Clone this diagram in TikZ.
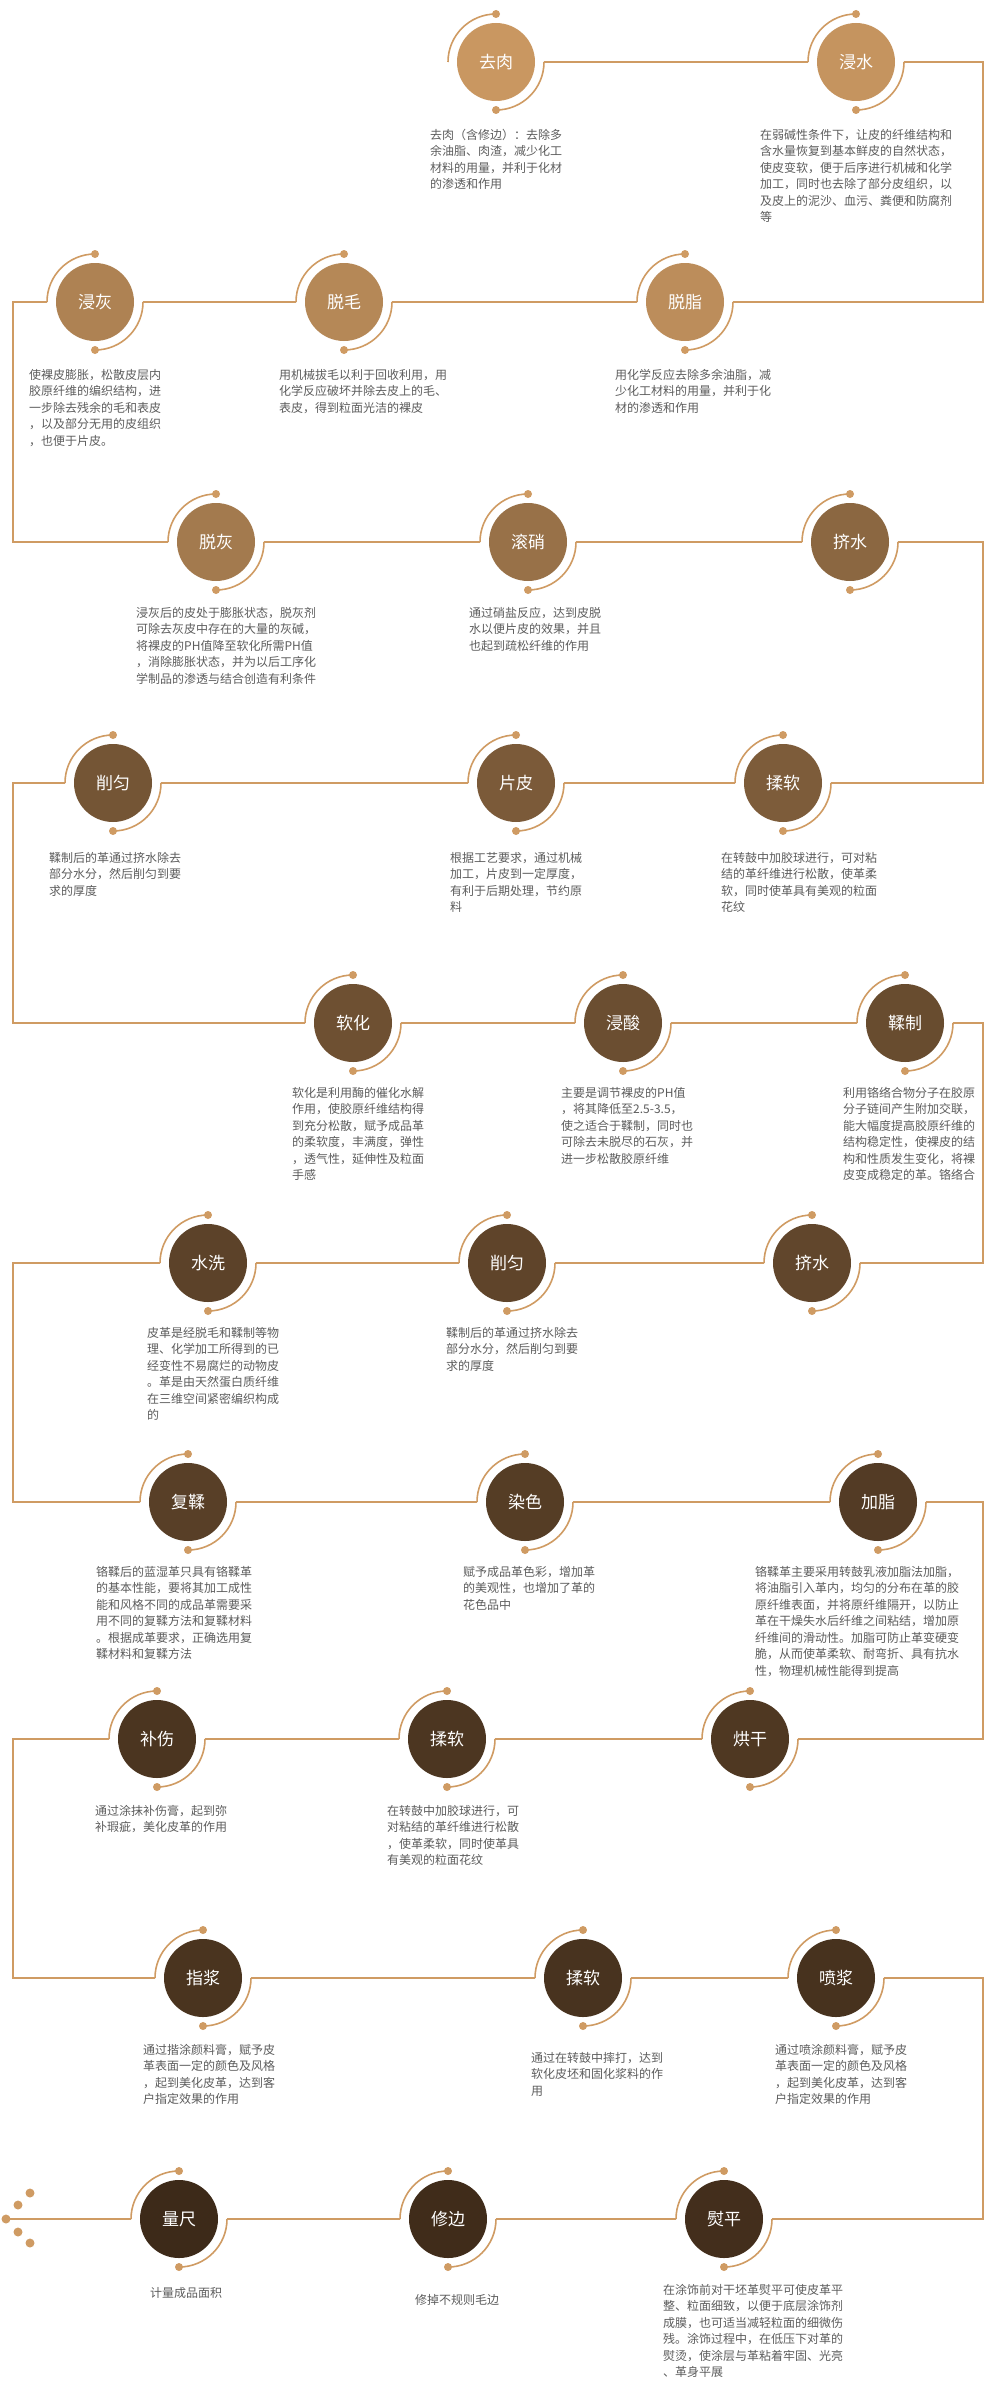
\documentclass[tikz,border=0pt]{standalone}
\usepackage{fontspec}
\setmainfont{Noto Sans CJK SC}
\usetikzlibrary{calc}
\definecolor{linetan}{HTML}{CF9B63}
\definecolor{lightbrown}{HTML}{C99761}
\definecolor{darkbrown}{HTML}{3D2A19}
\definecolor{textgray}{HTML}{5C5C5C}

\begin{document}
\begin{tikzpicture}[
    x=1pt, y=-1pt,
    stage/.style={circle, minimum size=78pt, inner sep=0pt, outer sep=9pt,
        fill=darkbrown!#1!lightbrown, text=white, font=\fontsize{17}{17}\selectfont},
    desc/.style={anchor=north west, inner sep=0pt, align=left, text=textgray,
        font=\fontsize{12}{16.5}\selectfont},
    link/.style={draw=linetan, line width=2pt},
    ring/.style={draw=linetan, line width=1.6pt}
]
\useasboundingbox (0,0) rectangle (996,2403);

% row 1
\node[stage=0] (quro) at (496,62) {去肉};
\node[stage=3] (jinshui) at (856,62) {浸水};
% row 2
\node[stage=9] (tuozhi) at (685,302) {脱脂};
\node[stage=14] (tuomao) at (344,302) {脱毛};
\node[stage=19] (jinhui) at (95,302) {浸灰};
% row 3
\node[stage=27] (tuohui) at (216,542) {脱灰};
\node[stage=35] (gunxiao) at (528,542) {滚硝};
\node[stage=44] (jishui1) at (850,542) {挤水};
% row 4
\node[stage=54] (roruan1) at (783,783) {揉软};
\node[stage=56] (pianpi) at (516,783) {片皮};
\node[stage=61] (xiaoyun1) at (113,783) {削匀};
% row 5
\node[stage=65] (ruanhua) at (353,1023) {软化};
\node[stage=67] (jinsuan) at (623,1023) {浸酸};
\node[stage=69] (rouzhi) at (905,1023) {鞣制};
% row 6
\node[stage=74] (jishui2) at (812,1263) {挤水};
\node[stage=76] (xiaoyun2) at (507,1263) {削匀};
\node[stage=78] (shuixi) at (208,1263) {水洗};
% row 7
\node[stage=81] (furou) at (188,1502) {复鞣};
\node[stage=83] (ranse) at (525,1502) {染色};
\node[stage=84] (jiazhi) at (878,1502) {加脂};
% row 8
\node[stage=87] (honggan) at (750,1739) {烘干};
\node[stage=89] (roruan2) at (447,1739) {揉软};
\node[stage=90] (bushang) at (157,1739) {补伤};
% row 9
\node[stage=91] (zhijiang) at (203,1978) {指浆};
\node[stage=92] (roruan3) at (583,1978) {揉软};
\node[stage=93] (penjiang) at (836,1978) {喷浆};
% row 10
\node[stage=96] (yunping) at (724,2219) {熨平};
\node[stage=98] (xiubian) at (448,2219) {修边};
\node[stage=100] (liangchi) at (179,2219) {量尺};

% rings round the stages
\foreach \n in {quro, jinshui, tuozhi, tuomao, jinhui, tuohui, gunxiao, jishui1,
    roruan1, pianpi, xiaoyun1, ruanhua, jinsuan, rouzhi, jishui2, xiaoyun2, shuixi,
    furou, ranse, jiazhi, honggan, roruan2, bushang, zhijiang, roruan3, penjiang,
    yunping, xiubian, liangchi} {
  \draw[ring] ([shift={(90:48pt)}]\n.center) arc[start angle=90, end angle=180, radius=48pt];
  \draw[ring] ([shift={(270:48pt)}]\n.center) arc[start angle=270, end angle=360, radius=48pt];
  \fill[linetan] ([shift={(90:48pt)}]\n.center) circle[radius=4pt];
  \fill[linetan] ([shift={(270:48pt)}]\n.center) circle[radius=4pt];
}

% the path
\coordinate (rgt) at (983,0);
\coordinate (lft) at (13,0);
\coordinate (tail) at (6,2219);
\draw[link] (quro.east) -- (jinshui.west);
\draw[link] (jinshui.east) -| (rgt |- tuozhi.east) -- (tuozhi.east);
\draw[link] (tuozhi.west) -- (tuomao.east);
\draw[link] (tuomao.west) -- (jinhui.east);
\draw[link] (jinhui.west) -| (lft |- tuohui.west) -- (tuohui.west);
\draw[link] (tuohui.east) -- (gunxiao.west);
\draw[link] (gunxiao.east) -- (jishui1.west);
\draw[link] (jishui1.east) -| (rgt |- roruan1.east) -- (roruan1.east);
\draw[link] (roruan1.west) -- (pianpi.east);
\draw[link] (pianpi.west) -- (xiaoyun1.east);
\draw[link] (xiaoyun1.west) -| (lft |- ruanhua.west) -- (ruanhua.west);
\draw[link] (ruanhua.east) -- (jinsuan.west);
\draw[link] (jinsuan.east) -- (rouzhi.west);
\draw[link] (rouzhi.east) -| (rgt |- jishui2.east) -- (jishui2.east);
\draw[link] (jishui2.west) -- (xiaoyun2.east);
\draw[link] (xiaoyun2.west) -- (shuixi.east);
\draw[link] (shuixi.west) -| (lft |- furou.west) -- (furou.west);
\draw[link] (furou.east) -- (ranse.west);
\draw[link] (ranse.east) -- (jiazhi.west);
\draw[link] (jiazhi.east) -| (rgt |- honggan.east) -- (honggan.east);
\draw[link] (honggan.west) -- (roruan2.east);
\draw[link] (roruan2.west) -- (bushang.east);
\draw[link] (bushang.west) -| (lft |- zhijiang.west) -- (zhijiang.west);
\draw[link] (zhijiang.east) -- (roruan3.west);
\draw[link] (roruan3.east) -- (penjiang.west);
\draw[link] (penjiang.east) -| (rgt |- yunping.east) -- (yunping.east);
\draw[link] (yunping.west) -- (xiubian.east);
\draw[link] (xiubian.west) -- (liangchi.east);
\draw[link] (liangchi.west) -- (tail);
\foreach \dx/\dy in {24/-26, 12/-14, 0/0, 12/13, 24/24}
  \fill[linetan] ([shift={(\dx,\dy)}]tail) circle[radius=4.5pt];

% descriptions
\node[desc] (quroTxt) at (430,129) {去肉（含修边）：去除多\\余油脂、肉渣，减少化工\\材料的用量，并利于化材\\的渗透和作用};
\node[desc] (jinshuiTxt) at (760,129) {在弱碱性条件下，让皮的纤维结构和\\含水量恢复到基本鲜皮的自然状态，\\使皮变软，便于后序进行机械和化学\\加工，同时也去除了部分皮组织，以\\及皮上的泥沙、血污、粪便和防腐剂\\等};
\node[desc] (jinhuiTxt) at (29,369) {使裸皮膨胀，松散皮层内\\胶原纤维的编织结构，进\\一步除去残余的毛和表皮\\，以及部分无用的皮组织\\，也便于片皮。};
\node[desc] (tuomaoTxt) at (279,369) {用机械拔毛以利于回收利用，用\\化学反应破坏并除去皮上的毛、\\表皮，得到粒面光洁的裸皮};
\node[desc] (tuozhiTxt) at (615,369) {用化学反应去除多余油脂，减\\少化工材料的用量，并利于化\\材的渗透和作用};
\node[desc] (tuohuiTxt) at (136,607) {浸灰后的皮处于膨胀状态，脱灰剂\\可除去灰皮中存在的大量的灰碱，\\将裸皮的PH值降至软化所需PH值\\，消除膨胀状态，并为以后工序化\\学制品的渗透与结合创造有利条件};
\node[desc] (gunxiaoTxt) at (469,607) {通过硝盐反应，达到皮脱\\水以便片皮的效果，并且\\也起到疏松纤维的作用};
\node[desc] (xiaoyun1Txt) at (49,852) {鞣制后的革通过挤水除去\\部分水分，然后削匀到要\\求的厚度};
\node[desc] (pianpiTxt) at (450,852) {根据工艺要求，通过机械\\加工，片皮到一定厚度，\\有利于后期处理，节约原\\料};
\node[desc] (roruan1Txt) at (721,852) {在转鼓中加胶球进行，可对粘\\结的革纤维进行松散，使革柔\\软，同时使革具有美观的粒面\\花纹};
\node[desc] (ruanhuaTxt) at (292,1087) {软化是利用酶的催化水解\\作用，使胶原纤维结构得\\到充分松散，赋予成品革\\的柔软度，丰满度，弹性\\，透气性，延伸性及粒面\\手感};
\node[desc] (jinsuanTxt) at (561,1087) {主要是调节裸皮的PH值\\，将其降低至2.5-3.5，\\使之适合于鞣制，同时也\\可除去未脱尽的石灰，并\\进一步松散胶原纤维};
\node[desc] (rouzhiTxt) at (843,1087) {利用铬络合物分子在胶原\\分子链间产生附加交联，\\能大幅度提高胶原纤维的\\结构稳定性，使裸皮的结\\构和性质发生变化，将裸\\皮变成稳定的革。铬络合};
\node[desc] (shuixiTxt) at (147,1327) {皮革是经脱毛和鞣制等物\\理、化学加工所得到的已\\经变性不易腐烂的动物皮\\。革是由天然蛋白质纤维\\在三维空间紧密编织构成\\的};
\node[desc] (xiaoyun2Txt) at (446,1327) {鞣制后的革通过挤水除去\\部分水分，然后削匀到要\\求的厚度};
\node[desc] (furouTxt) at (96,1566) {铬鞣后的蓝湿革只具有铬鞣革\\的基本性能，要将其加工成性\\能和风格不同的成品革需要采\\用不同的复鞣方法和复鞣材料\\。根据成革要求，正确选用复\\鞣材料和复鞣方法};
\node[desc] (ranseTxt) at (463,1566) {赋予成品革色彩，增加革\\的美观性，也增加了革的\\花色品中};
\node[desc] (jiazhiTxt) at (755,1566) {铬鞣革主要采用转鼓乳液加脂法加脂，\\将油脂引入革内，均匀的分布在革的胶\\原纤维表面，并将原纤维隔开，以防止\\革在干燥失水后纤维之间粘结，增加原\\纤维间的滑动性。加脂可防止革变硬变\\脆，从而使革柔软、耐弯折、具有抗水\\性，物理机械性能得到提高};
\node[desc] (bushangTxt) at (95,1805) {通过涂抹补伤膏，起到弥\\补瑕疵，美化皮革的作用};
\node[desc] (roruan2Txt) at (387,1805) {在转鼓中加胶球进行，可\\对粘结的革纤维进行松散\\，使革柔软，同时使革具\\有美观的粒面花纹};
\node[desc] (zhijiangTxt) at (143,2044) {通过揩涂颜料膏，赋予皮\\革表面一定的颜色及风格\\，起到美化皮革，达到客\\户指定效果的作用};
\node[desc] (roruan3Txt) at (531,2052) {通过在转鼓中摔打，达到\\软化皮坯和固化浆料的作\\用};
\node[desc] (penjiangTxt) at (775,2044) {通过喷涂颜料膏，赋予皮\\革表面一定的颜色及风格\\，起到美化皮革，达到客\\户指定效果的作用};
\node[desc] (liangchiTxt) at (150,2287) {计量成品面积};
\node[desc] (xiubianTxt) at (415,2294) {修掉不规则毛边};
\node[desc] (yunpingTxt) at (663,2284) {在涂饰前对干坯革熨平可使皮革平\\整、粒面细致，以便于底层涂饰剂\\成膜，也可适当减轻粒面的细微伤\\残。涂饰过程中，在低压下对革的\\熨烫，使涂层与革粘着牢固、光亮\\、革身平展};
\end{tikzpicture}
\end{document}
